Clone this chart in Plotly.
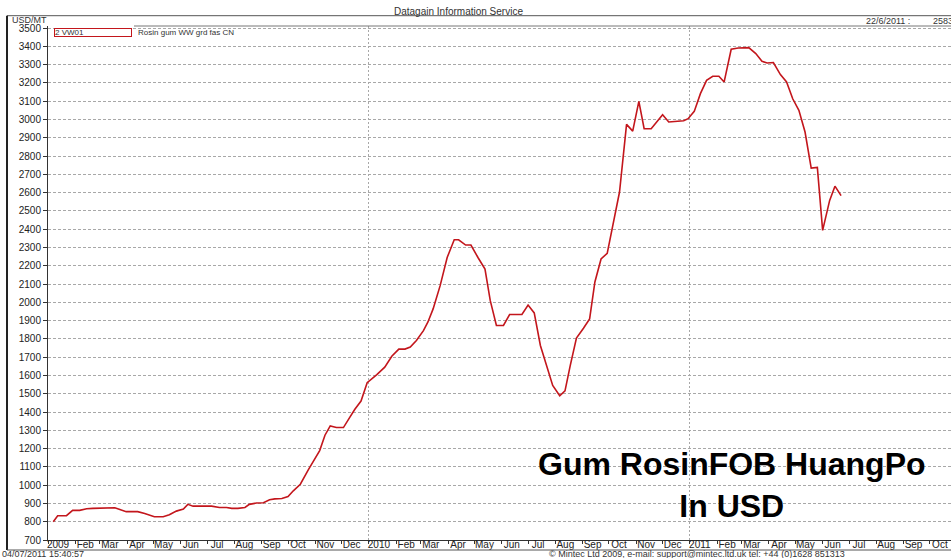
import plotly.graph_objects as go

# ---- data ----
dates = [
    "2009-01-07", "2009-01-12", "2009-01-22", "2009-01-29", "2009-02-06", "2009-02-14", "2009-02-21",
    "2009-03-08", "2009-03-18", "2009-03-31", "2009-04-13", "2009-04-21", "2009-05-02", "2009-05-12",
    "2009-05-19", "2009-05-27", "2009-06-04", "2009-06-09", "2009-06-15", "2009-06-25", "2009-07-06",
    "2009-07-15", "2009-07-23", "2009-07-29", "2009-08-05", "2009-08-13", "2009-08-18", "2009-08-26",
    "2009-09-03", "2009-09-10", "2009-09-16", "2009-09-24", "2009-10-01", "2009-10-07", "2009-10-15",
    "2009-10-24", "2009-10-30", "2009-11-06", "2009-11-12", "2009-11-18", "2009-11-25", "2009-12-03",
    "2009-12-10", "2009-12-16", "2009-12-23", "2009-12-30",
    "2010-01-10", "2010-01-19", "2010-01-27", "2010-02-04", "2010-02-11", "2010-02-17", "2010-02-24",
    "2010-03-04", "2010-03-09", "2010-03-15", "2010-03-23", "2010-03-31", "2010-04-08", "2010-04-13",
    "2010-04-21", "2010-04-27", "2010-05-05", "2010-05-13", "2010-05-19", "2010-05-26", "2010-06-03",
    "2010-06-10", "2010-06-18", "2010-06-24", "2010-07-01", "2010-07-08", "2010-07-15", "2010-07-21",
    "2010-07-29", "2010-08-06", "2010-08-12", "2010-08-18", "2010-08-25", "2010-09-02", "2010-09-09",
    "2010-09-15", "2010-09-22", "2010-09-29", "2010-10-06", "2010-10-13", "2010-10-21", "2010-10-28",
    "2010-11-04", "2010-11-10", "2010-11-18", "2010-12-01", "2010-12-08", "2010-12-16", "2010-12-25",
    "2010-12-30",
    "2011-01-06", "2011-01-13", "2011-01-20", "2011-01-27", "2011-02-03", "2011-02-09", "2011-02-17",
    "2011-02-25", "2011-03-09", "2011-03-17", "2011-03-24", "2011-03-30", "2011-04-06", "2011-04-14",
    "2011-04-21", "2011-04-28", "2011-05-05", "2011-05-12", "2011-05-19", "2011-05-26", "2011-06-01",
    "2011-06-09", "2011-06-15", "2011-06-22",
]
prices = [
    800, 833, 833, 862, 862, 871, 873,
    873, 876, 855, 855, 845, 827, 827,
    838, 858, 869, 895, 885, 885, 885,
    878, 878, 873, 873, 878, 895, 902,
    904, 920, 925, 927, 938, 969, 1005,
    1084, 1136, 1189, 1273, 1324, 1315, 1315,
    1369, 1415, 1460, 1560,
    1604, 1645, 1705, 1744, 1744, 1755, 1791,
    1845, 1891, 1964, 2091, 2245, 2342, 2342,
    2313, 2313, 2245, 2182, 2009, 1873, 1873,
    1933, 1933, 1933, 1985, 1942, 1764, 1673,
    1545, 1489, 1516, 1655, 1804, 1858, 1909,
    2111, 2237, 2268, 2438, 2603, 2973, 2936,
    3099, 2949, 2949, 3026, 2986, 2989, 2993,
    3004,
    3044, 3141, 3214, 3236, 3236, 3205, 3384,
    3391, 3393, 3360, 3318, 3309, 3311, 3245,
    3205, 3113, 3050, 2931, 2734, 2738, 2393,
    2557, 2635, 2583,
]

month_ticks = [
    "2009-01-01", "2009-02-01", "2009-03-01", "2009-04-01", "2009-05-01", "2009-06-01",
    "2009-07-01", "2009-08-01", "2009-09-01", "2009-10-01", "2009-11-01", "2009-12-01",
    "2010-01-01", "2010-02-01", "2010-03-01", "2010-04-01", "2010-05-01", "2010-06-01",
    "2010-07-01", "2010-08-01", "2010-09-01", "2010-10-01", "2010-11-01", "2010-12-01",
    "2011-01-01", "2011-02-01", "2011-03-01", "2011-04-01", "2011-05-01", "2011-06-01",
    "2011-07-01", "2011-08-01", "2011-09-01", "2011-10-01",
]
month_labels = [
    "2009", "Feb", "Mar", "Apr", "May", "Jun", "Jul", "Aug", "Sep", "Oct", "Nov", "Dec",
    "2010", "Feb", "Mar", "Apr", "May", "Jun", "Jul", "Aug", "Sep", "Oct", "Nov", "Dec",
    "2011", "Feb", "Mar", "Apr", "May", "Jun", "Jul", "Aug", "Sep", "Oct",
]
year_ticks = ["2010-01-01", "2011-01-01"]
y_ticks = list(range(700, 3600, 100))

series_code = "2 VW01"
series_name = "Rosin gum WW grd fas CN"
last_label = "22/6/2011 :"
last_value = "2583"

FONT = "Liberation Sans, Arial, sans-serif"
W, H = 951, 558
L, R, T, B = 48, 0, 26, 18
PW, PH = W - L - R, H - T - B


def px(x):
    return (x - L) / PW


def py(y):
    return (H - B - y) / PH


fig = go.Figure()
fig.add_trace(go.Scatter(
    x=dates, y=prices, mode="lines",
    line=dict(color="#c3161c", width=1.6),
    showlegend=False, hoverinfo="x+y",
))
# invisible trace to carry the year-grid overlay axis
fig.add_trace(go.Scatter(
    x=dates, y=prices, mode="lines", xaxis="x2",
    line=dict(color="rgba(0,0,0,0)", width=0),
    showlegend=False, hoverinfo="skip",
))

xrange = ["2009-01-01", "2011-10-25"]
fig.update_layout(
    width=W, height=H,
    margin=dict(l=L, r=R, t=T, b=B, pad=0),
    paper_bgcolor="white", plot_bgcolor="white",
    font=dict(family=FONT, size=10, color="#222"),
    xaxis=dict(
        type="date", range=xrange,
        tickmode="array", tickvals=month_ticks, ticktext=month_labels,
        ticks="outside", ticklen=3, tickcolor="#333", tickwidth=1,
        ticklabelshift=10, ticklabelstandoff=-8,
        showgrid=False, zeroline=False,
        showline=True, linecolor="#333", linewidth=1,
        tickfont=dict(size=10, color="#222"),
    ),
    xaxis2=dict(
        type="date", range=xrange, overlaying="x", anchor="y",
        tickmode="array", tickvals=year_ticks,
        showticklabels=False, ticks="",
        showgrid=True, gridcolor="#a8a8a8", gridwidth=1, griddash="2px,2px",
        zeroline=False, showline=False,
    ),
    yaxis=dict(
        range=[700, 3511],
        tickmode="array", tickvals=y_ticks,
        ticks="outside", ticklen=4, tickcolor="#333", tickwidth=1,
        showgrid=True, gridcolor="#a8a8a8", gridwidth=1, griddash="3px,2px",
        zeroline=False,
        showline=True, linecolor="#333", linewidth=1,
        tickfont=dict(size=10, color="#222"),
    ),
)

line_dark = dict(color="#555", width=1)
fig.add_shape(type="line", xref="paper", yref="paper",
              x0=px(7), x1=px(951), y0=py(15.7), y1=py(15.7), line=line_dark)
fig.add_shape(type="line", xref="paper", yref="paper",
              x0=px(134), x1=px(951), y0=py(26), y1=py(26), line=dict(color="#777", width=1))
fig.add_shape(type="line", xref="paper", yref="paper",
              x0=px(7), x1=px(7), y0=py(15.7), y1=py(550), line=dict(color="#222", width=2))
fig.add_shape(type="line", xref="paper", yref="paper",
              x0=px(7), x1=px(951), y0=py(550), y1=py(550), line=line_dark)

anns = [
    dict(text="Datagain Information Service", x=px(458), y=py(11), xanchor="center", yanchor="middle",
         font=dict(size=10, color="#333")),
    dict(text="USD/MT", x=px(10), y=py(19.5), xanchor="left", yanchor="middle",
         font=dict(size=9, color="#333")),
    dict(text=last_label, x=px(864), y=py(20.5), xanchor="left", yanchor="middle",
         font=dict(size=9, color="#333")),
    dict(text=last_value, x=px(931), y=py(20.5), xanchor="left", yanchor="middle",
         font=dict(size=9, color="#333")),
    dict(text=series_code, x=px(92.5), y=py(32.8), xanchor="center", yanchor="middle",
         width=76, height=7, align="left", bordercolor="#c3161c", borderwidth=1, borderpad=0,
         font=dict(size=8, color="#333")),
    dict(text=series_name, x=px(136), y=py(33), xanchor="left", yanchor="middle",
         font=dict(size=8, color="#333")),
    dict(text="<b>Gum RosinFOB HuangPo<br>In USD</b>", x=px(731.5), y=py(485), xanchor="center",
         yanchor="middle", align="center", font=dict(size=32, color="#000")),
    dict(text="04/07/2011 15:40:57", x=px(0), y=py(553.5), xanchor="left", yanchor="middle",
         font=dict(size=9, color="#333")),
    dict(text="\u00a9 Mintec Ltd 2009, e-mail: support@mintec.ltd.uk tel: +44 (0)1628 851313",
         x=px(547), y=py(553.5), xanchor="left", yanchor="middle",
         font=dict(size=9, color="#333")),
]
for a in anns:
    fig.add_annotation(xref="paper", yref="paper", showarrow=False, **a)

fig.write_html(
    "out.html",
    config={"displayModeBar": False},
    post_script="document.body.style.margin='0';document.body.style.padding='0';"
                "document.body.style.overflow='hidden';",
)
